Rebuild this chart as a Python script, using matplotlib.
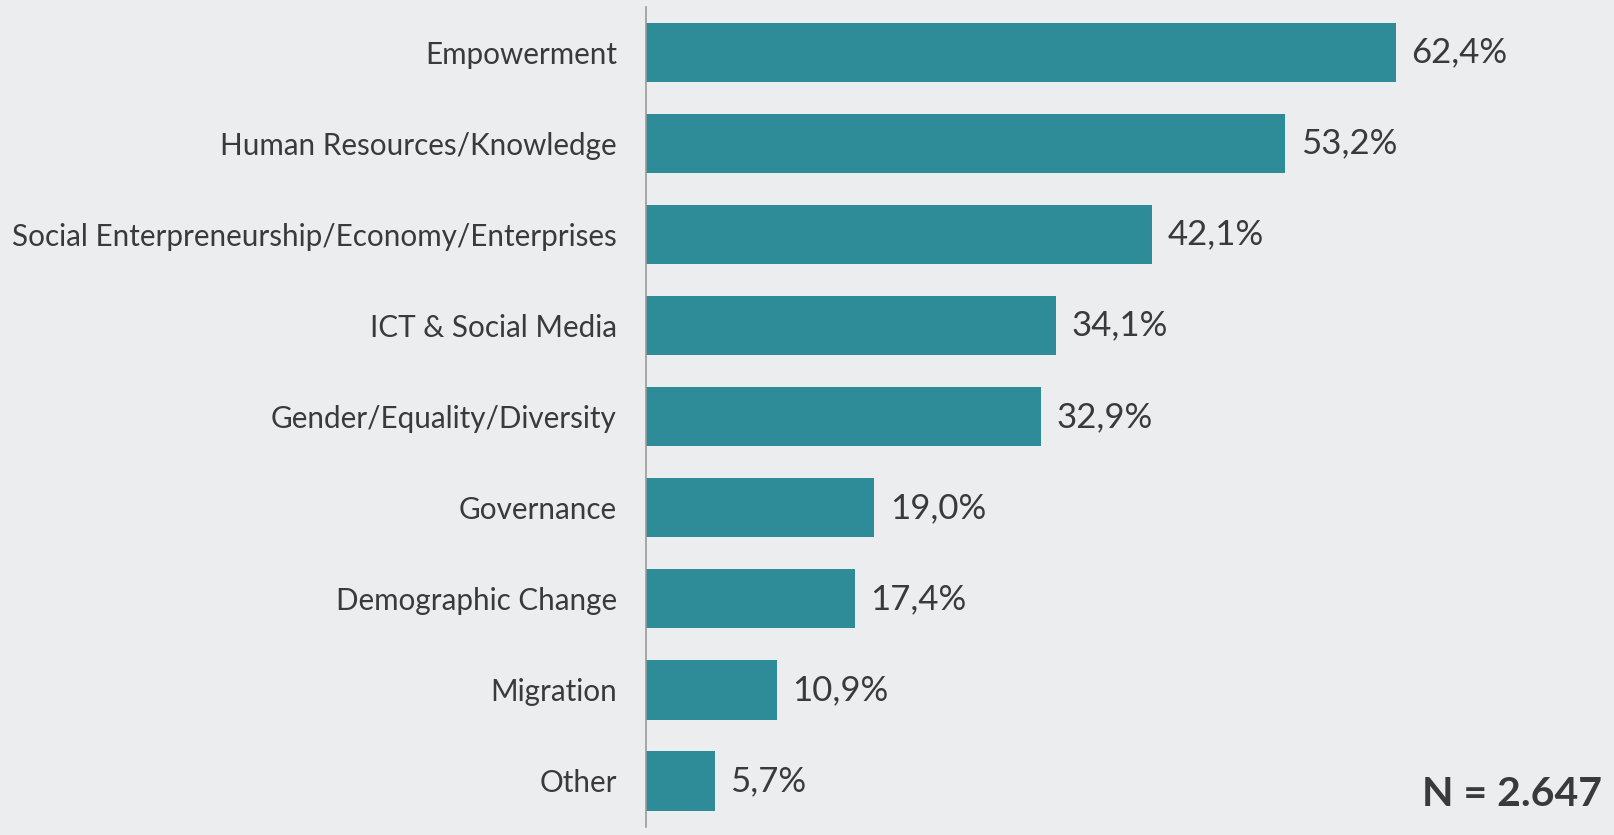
import matplotlib
matplotlib.use("Agg")
import matplotlib.pyplot as plt

categories = [
    "Empowerment",
    "Human Resources/Knowledge",
    "Social Enterpreneurship/Economy/Enterprises",
    "ICT & Social Media",
    "Gender/Equality/Diversity",
    "Governance",
    "Demographic Change",
    "Migration",
    "Other",
]
values = [62.4, 53.2, 42.1, 34.1, 32.9, 19.0, 17.4, 10.9, 5.7]
value_labels = ["62,4%", "53,2%", "42,1%", "34,1%", "32,9%", "19,0%", "17,4%", "10,9%", "5,7%"]
sample_note = "N = 2.647"

BG = "#ebedef"
BAR = "#2e8c99"
TXT = "#3a3a3a"

plt.rcParams["font.family"] = ["Lato", "DejaVu Sans"]

W, H = 1615, 835
fig = plt.figure(figsize=(W / 100, H / 100), dpi=100, facecolor=BG)
ax = fig.add_axes([646 / W, 8.5 / H, (W - 646) / W, 819.5 / H])
ax.set_facecolor(BG)

y = list(range(len(categories)))
ax.barh(y, values, height=0.65, color=BAR)
ax.set_ylim(len(categories) - 0.5, -0.5)
ax.set_xlim(0, (W - 646) / 12.02)

ax.set_yticks(y)
ax.set_yticklabels(categories, fontsize=21.3, color=TXT)
ax.tick_params(axis="y", length=0, pad=21)
ax.set_xticks([])

for s in ["top", "right", "bottom"]:
    ax.spines[s].set_visible(False)
ax.spines["left"].set_color("#9a9a9a")
ax.spines["left"].set_linewidth(1.2)

for yi, v, lab in zip(y, values, value_labels):
    ax.annotate(lab, (v, yi), xytext=(11, 0), textcoords="offset points",
                va="center", ha="left", fontsize=25, color=TXT)

fig.text(1602 / W, 1 - 795 / H, sample_note, ha="right", va="center",
         fontsize=29.5, fontweight="bold", color=TXT)

fig.savefig("out.png", dpi=100, facecolor=BG)
